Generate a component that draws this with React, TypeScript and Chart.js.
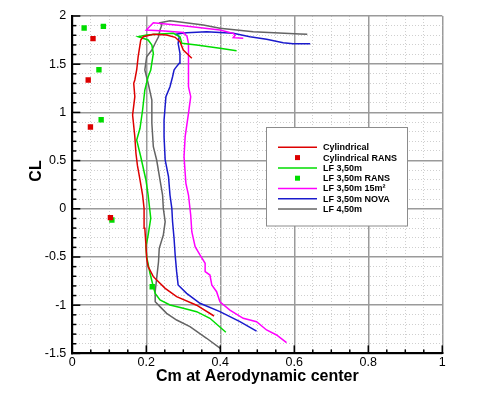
import React, { useEffect, useRef } from 'react';
import { Chart, registerables } from 'chart.js';

Chart.register(...registerables);

const FONT = '"Liberation Sans", Arial, Helvetica, sans-serif';

const xTitle = 'Cm at Aerodynamic center';
const yTitle = 'CL';
const seriesNames = ['Cylindrical', 'Cylindrical RANS', 'LF 3,50m', 'LF 3,50m RANS', 'LF 3,50m 15m²', 'LF 3,50m NOVA', 'LF 4,50m'];

// Cylindrical
const cylCm = [0.383, 0.336, 0.282, 0.251, 0.219, 0.205, 0.201, 0.199, 0.196, 0.194, 0.190, 0.183, 0.176, 0.172, 0.169, 0.163, 0.169, 0.166, 0.169, 0.174, 0.178, 0.185, 0.192, 0.219, 0.255, 0.278, 0.291, 0.300, 0.309, 0.323];
const cylCl = [-1.112, -1.0, -0.912, -0.825, -0.704, -0.6, -0.514, -0.375, -0.203, 0.005, 0.143, 0.3, 0.45, 0.576, 0.748, 0.973, 1.163, 1.302, 1.336, 1.44, 1.578, 1.751, 1.785, 1.81, 1.803, 1.779, 1.733, 1.647, 1.613, 1.561];

// Cylindrical RANS
const cylRansCm = [0.056, 0.043, 0.049, 0.103];
const cylRansCl = [1.765, 1.336, 0.849, -0.092];

// LF 3,50m
const lf350Cm = [0.415, 0.372, 0.336, 0.300, 0.264, 0.237, 0.224, 0.219, 0.210, 0.201, 0.199, 0.205, 0.212, 0.208, 0.205, 0.199, 0.185, 0.174, 0.183, 0.190, 0.196, 0.205, 0.212, 0.219, 0.215, 0.205, 0.178, 0.201, 0.237, 0.273, 0.291, 0.296, 0.336, 0.399, 0.444];
const lf350Cl = [-1.281, -1.136, -1.067, -1.032, -0.998, -0.946, -0.877, -0.808, -0.669, -0.497, -0.393, -0.272, -0.099, 0.039, 0.143, 0.299, 0.54, 0.714, 0.835, 1.025, 1.232, 1.37, 1.44, 1.613, 1.699, 1.751, 1.785, 1.803, 1.813, 1.82, 1.785, 1.717, 1.699, 1.665, 1.64];

// LF 3,50m RANS
const lf350RansCm = [0.032, 0.084, 0.072, 0.078, 0.107, 0.216];
const lf350RansCl = [1.876, 1.893, 1.443, 0.924, -0.116, -0.808];

// LF 3,50m 15m²
const lf15Cm = [0.579, 0.552, 0.525, 0.498, 0.462, 0.426, 0.399, 0.390, 0.377, 0.372, 0.359, 0.359, 0.345, 0.332, 0.323, 0.320, 0.314, 0.307, 0.302, 0.305, 0.314, 0.320, 0.314, 0.314, 0.314, 0.314, 0.310, 0.300, 0.250, 0.200, 0.219, 0.300, 0.399, 0.435, 0.440, 0.435, 0.462];
const lf15Cl = [-1.389, -1.309, -1.257, -1.171, -1.136, -1.05, -0.964, -0.86, -0.79, -0.687, -0.652, -0.565, -0.479, -0.393, -0.238, -0.064, 0.143, 0.264, 0.54, 0.748, 0.99, 1.163, 1.267, 1.44, 1.544, 1.717, 1.79, 1.83, 1.845, 1.855, 1.93, 1.9, 1.855, 1.82, 1.8, 1.775, 1.77];

// LF 3,50m NOVA
const novaCm = [0.498, 0.453, 0.399, 0.345, 0.309, 0.286, 0.282, 0.278, 0.275, 0.271, 0.269, 0.264, 0.260, 0.251, 0.248, 0.248, 0.253, 0.264, 0.271, 0.275, 0.278, 0.289, 0.291, 0.286, 0.289, 0.282, 0.309, 0.363, 0.435, 0.480, 0.525, 0.570, 0.597, 0.643];
const novaCl = [-1.268, -1.171, -1.067, -0.98, -0.877, -0.79, -0.652, -0.479, -0.306, -0.134, 0.005, 0.143, 0.333, 0.506, 0.748, 0.921, 1.163, 1.267, 1.37, 1.44, 1.457, 1.509, 1.613, 1.717, 1.785, 1.813, 1.827, 1.837, 1.82, 1.785, 1.758, 1.723, 1.713, 1.713];

// LF 4,50m
const lf450Cm = [0.400, 0.363, 0.318, 0.282, 0.255, 0.237, 0.224, 0.224, 0.228, 0.233, 0.235, 0.246, 0.251, 0.246, 0.244, 0.237, 0.228, 0.219, 0.215, 0.215, 0.205, 0.196, 0.201, 0.215, 0.224, 0.233, 0.237, 0.242, 0.237, 0.264, 0.291, 0.354, 0.399, 0.489, 0.615, 0.635];
const lf450Cl = [-1.448, -1.343, -1.223, -1.154, -1.084, -1.015, -0.964, -0.86, -0.721, -0.549, -0.41, -0.272, -0.134, 0.005, 0.143, 0.299, 0.506, 0.644, 0.887, 1.129, 1.302, 1.44, 1.578, 1.647, 1.717, 1.785, 1.855, 1.907, 1.93, 1.95, 1.938, 1.907, 1.872, 1.837, 1.813, 1.81];

const xMin = 0, xMax = 1, xMinor = 0.05, xMajor = 0.2;
const yMin = -1.5, yMax = 2, yMinor = 0.1, yMajor = 0.5;

const colors = {
  red: '#dd0000',
  green: '#00dd00',
  magenta: '#ff00ff',
  blue: '#1a1acc',
  gray: '#646464',
};

const pts = (xs: number[], ys: number[]) => xs.map((x, i) => ({ x, y: ys[i] }));
const isMult = (v: number, s: number) => Math.abs(v / s - Math.round(v / s)) < 1e-6;

const lineDs = (label: string, xs: number[], ys: number[], color: string) => ({
  label,
  data: pts(xs, ys),
  showLine: true,
  borderColor: color,
  backgroundColor: color,
  borderWidth: 1.5,
  pointRadius: 0,
  tension: 0,
});
const markDs = (label: string, xs: number[], ys: number[], color: string) => ({
  label,
  data: pts(xs, ys),
  showLine: false,
  borderColor: color,
  backgroundColor: color,
  borderWidth: 0,
  pointStyle: 'rect',
  pointRadius: 3.8,
});

const decorPlugin = {
  id: 'decor',
  afterDraw(chart: any) {
    const ctx = chart.ctx;
    const { left, right, top, bottom } = chart.chartArea;
    const xs = chart.scales.x;
    const ys = chart.scales.y;
    ctx.save();
    ctx.strokeStyle = '#000';
    ctx.lineWidth = 1.5;
    xs.ticks.forEach((t: any) => {
      const p = xs.getPixelForValue(t.value);
      const L = isMult(t.value, xMajor) ? 8 : 4;
      ctx.beginPath();
      ctx.moveTo(p, bottom);
      ctx.lineTo(p, bottom - L);
      ctx.stroke();
    });
    ys.ticks.forEach((t: any) => {
      const p = ys.getPixelForValue(t.value);
      const L = isMult(t.value, yMajor) ? 8 : 4;
      ctx.beginPath();
      ctx.moveTo(left, p);
      ctx.lineTo(left + L, p);
      ctx.stroke();
    });
    // axis titles
    ctx.fillStyle = '#000';
    ctx.font = `bold 16px ${FONT}`;
    ctx.textAlign = 'center';
    ctx.textBaseline = 'middle';
    ctx.fillText(xTitle, (left + right) / 2, 377);
    ctx.save();
    ctx.translate(37, 171);
    ctx.rotate(-Math.PI / 2);
    ctx.fillText(yTitle, 0, 0);
    ctx.restore();

    // legend box
    const bx = 266.5, by = 127.5, bw = 141, bh = 98.5;
    ctx.fillStyle = '#ffffff';
    ctx.fillRect(bx, by, bw, bh);
    ctx.strokeStyle = '#8c8c8c';
    ctx.lineWidth = 1;
    ctx.strokeRect(bx, by, bw, bh);
    ctx.font = `bold 9px ${FONT}`;
    ctx.textAlign = 'left';
    ctx.textBaseline = 'middle';
    chart.data.datasets.forEach((ds: any, i: number) => {
      const yy = 147.3 + i * 10.3;
      if (ds.showLine) {
        ctx.strokeStyle = ds.borderColor;
        ctx.lineWidth = 1.5;
        ctx.beginPath();
        ctx.moveTo(278, yy);
        ctx.lineTo(317, yy);
        ctx.stroke();
      } else {
        ctx.fillStyle = ds.backgroundColor;
        ctx.fillRect(295, yy - 2.5, 5, 5);
      }
      ctx.fillStyle = '#000';
      ctx.fillText(ds.label, 323, yy + 0.5);
    });
    ctx.restore();
  },
};

export default function App() {
  const ref = useRef<HTMLCanvasElement | null>(null);
  useEffect(() => {
    if (!ref.current) return;
    Chart.defaults.font.family = FONT;
    const chart = new Chart(ref.current, {
      type: 'scatter',
      data: {
        datasets: [
          lineDs(seriesNames[0], cylCm, cylCl, colors.red),
          markDs(seriesNames[1], cylRansCm, cylRansCl, colors.red),
          lineDs(seriesNames[2], lf350Cm, lf350Cl, colors.green),
          markDs(seriesNames[3], lf350RansCm, lf350RansCl, colors.green),
          lineDs(seriesNames[4], lf15Cm, lf15Cl, colors.magenta),
          lineDs(seriesNames[5], novaCm, novaCl, colors.blue),
          lineDs(seriesNames[6], lf450Cm, lf450Cl, colors.gray),
        ] as any,
      },
      options: {
        animation: false,
        responsive: false,
        maintainAspectRatio: false,
        layout: { padding: { top: 16, right: 44.7, bottom: 0, left: 0 } },
        plugins: {
          legend: { display: false },
          tooltip: { enabled: false },
        },
        scales: {
          x: {
            type: 'linear',
            min: xMin,
            max: xMax,
            afterFit: (s: any) => { s.height = 44.6; },
            ticks: {
              stepSize: xMinor,
              autoSkip: false,
              maxRotation: 0,
              padding: 2,
              color: '#000',
              font: { size: 12.5, family: FONT },
              callback: (v: any) => (isMult(Number(v), xMajor) ? String(Number(Number(v).toFixed(2))) : ''),
            },
            grid: {
              drawTicks: false,
              color: (c: any) => (c.tick && isMult(c.tick.value, xMajor) ? '#9a9a9a' : '#cfcfcf'),
              lineWidth: (c: any) => (c.tick && isMult(c.tick.value, xMajor) ? 1.5 : 1),
            },
            border: {
              display: true,
              color: '#000',
              width: 2,
              dash: (c: any) => (c.tick && !isMult(c.tick.value, xMajor) ? [1, 2] : []),
            },
          },
          y: {
            type: 'linear',
            min: yMin,
            max: yMax,
            afterFit: (s: any) => { s.width = 72.3; },
            ticks: {
              stepSize: yMinor,
              autoSkip: false,
              padding: 6,
              color: '#000',
              font: { size: 12.5, family: FONT },
              callback: (v: any) => (isMult(Number(v), yMajor) ? String(Number(Number(v).toFixed(2))) : ''),
            },
            grid: {
              drawTicks: false,
              color: (c: any) => (c.tick && isMult(c.tick.value, yMajor) ? '#9a9a9a' : '#cfcfcf'),
              lineWidth: (c: any) => (c.tick && isMult(c.tick.value, yMajor) ? 1.5 : 1),
            },
            border: {
              display: true,
              color: '#000',
              width: 2,
              dash: (c: any) => (c.tick && !isMult(c.tick.value, yMajor) ? [1, 2] : []),
            },
          },
        },
      } as any,
      plugins: [decorPlugin],
    });
    return () => chart.destroy();
  }, []);
  return (
    <div style={{ position: 'fixed', left: 0, top: 0, width: 487, height: 398, background: '#fff' }}>
      <canvas ref={ref} width={487} height={398} />
    </div>
  );
}
